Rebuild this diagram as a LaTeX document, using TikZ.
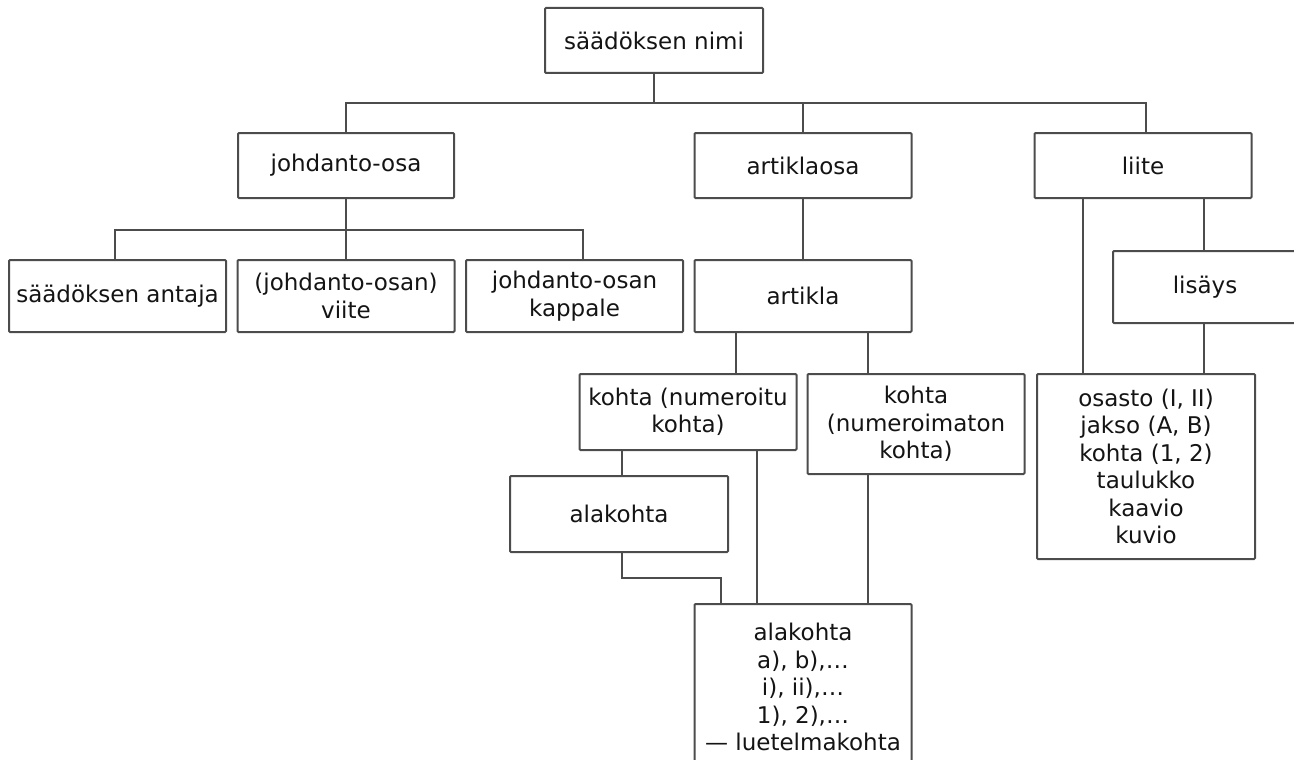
\documentclass[tikz,border=0pt]{standalone}
\usepackage{fontspec}
\setmainfont{DejaVu Sans}
\begin{document}
\begin{tikzpicture}[x=1pt,y=-1pt,
  box/.style={draw=black!70, line width=2pt, rounded corners=1pt, fill=white,
    align=center, inner sep=0pt, text=black!92,
    font=\fontsize{23}{27.5}\selectfont},
  link/.style={draw=black!70, line width=2pt}]
\useasboundingbox (0,0) rectangle (1294,760);
\clip (0,0) rectangle (1294,760);
% level 0
\node[box, minimum width=218pt, minimum height=65pt] (top) at (654,40.5) {säädöksen nimi};
% level 1
\node[box, minimum width=216pt, minimum height=65pt] (joh) at (346,165.5) {johdanto-osa};
\node[box, minimum width=217pt, minimum height=65pt] (art) at (803,165.5) {artiklaosa};
\node[box, minimum width=217pt, minimum height=65pt] (liite) at (1143,165.5) {liite};
% level 2
\node[box, minimum width=217pt, minimum height=72pt] (antaja) at (117.5,296) {säädöksen antaja};
\node[box, minimum width=217pt, minimum height=72pt] (viite) at (346,296) {(johdanto-osan)\\viite};
\node[box, minimum width=217pt, minimum height=72pt] (kappale) at (574.5,296) {johdanto-osan\\kappale};
\node[box, minimum width=217pt, minimum height=72pt] (artikla) at (803,296) {artikla};
\node[box, minimum width=184pt, minimum height=72pt] (lisays) at (1205,287) {lisäys};
% level 3
\node[box, minimum width=217pt, minimum height=76pt] (kohta1) at (688,412) {kohta (numeroitu\\kohta)};
\node[box, minimum width=217pt, minimum height=100pt] (kohta2) at (916,424) {kohta\\(numeroimaton\\kohta)};
\node[box, minimum width=218pt, minimum height=185pt] (liitebox) at (1146,466.5) {osasto (I, II)\\jakso (A, B)\\kohta (1, 2)\\taulukko\\kaavio\\kuvio};
\node[box, minimum width=218pt, minimum height=76pt] (alakohta) at (619,514) {alakohta};
\node[box, minimum width=217pt, minimum height=166pt] (big) at (803,687) {alakohta\\a), b),…\\i), ii),…\\1), 2),…\\— luetelmakohta};
% connectors
\coordinate (b1) at (654,103);
\coordinate (b2) at (346,230);
\coordinate (b3) at (721,578);
\draw[link] (top.south) -- (b1);
\draw[link] (joh.north) |- (b1) -| ([xshift=3pt]liite.north);
\draw[link] (art.north) -- (art.north |- b1);
\draw[link] (joh.south) -- (joh.south |- viite.north);
\draw[link] ([xshift=-2.5pt]antaja.north) |- (b2) -| ([xshift=8.5pt]kappale.north);
\draw[link] (art.south) -- (artikla.north);
\draw[link] ([xshift=-67pt]artikla.south) -- ([xshift=-67pt]artikla.south |- kohta1.north);
\draw[link] ([xshift=65pt]artikla.south) -- ([xshift=65pt]artikla.south |- kohta2.north);
\draw[link] ([xshift=3pt]alakohta.north) -- ([xshift=3pt]alakohta.north |- kohta1.south);
\draw[link] ([xshift=69pt]kohta1.south) -- ([xshift=69pt]kohta1.south |- big.north);
\draw[link] ([xshift=3pt]alakohta.south) |- (b3) -- (b3 |- big.north);
\draw[link] ([xshift=-48pt]kohta2.south) -- ([xshift=-48pt]kohta2.south |- big.north);
\draw[link] ([xshift=-60pt]liite.south) -- ([xshift=-60pt]liite.south |- liitebox.north);
\draw[link] ([xshift=61pt]liite.south) -- ([xshift=61pt]liite.south |- lisays.north);
\draw[link] ([xshift=-1pt]lisays.south) -- ([xshift=-1pt]lisays.south |- liitebox.north);
\end{tikzpicture}
\end{document}
